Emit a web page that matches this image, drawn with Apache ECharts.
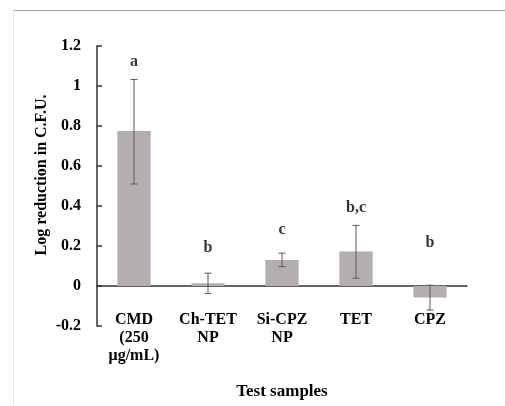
<!DOCTYPE html>
<html>
<head>
<meta charset="utf-8">
<script src="https://cdn.jsdelivr.net/npm/echarts@6/dist/echarts.min.js"></script>
<style>
html, body { margin: 0; padding: 0; background: #fff; }
#chart { width: 505px; height: 406px; }
</style>
</head>
<body>
<div id="chart"></div>
<script>
var categories = ['CMD\n(250\nμg/mL)', 'Ch-TET\nNP', 'Si-CPZ\nNP', 'TET', 'CPZ'];
var means = [0.775, 0.014, 0.13, 0.172, -0.058];
var errLow = [0.51, -0.037, 0.097, 0.039, -0.12];
var errHigh = [1.033, 0.064, 0.164, 0.303, 0.004];
var letters = ['a', 'b', 'c', 'b,c', 'b'];
var letterY = [1.12, 0.19, 0.28, 0.39, 0.215];

var serif = '"Liberation Serif", "DejaVu Serif", serif';

var errData = categories.map(function (c, i) { return [i, errLow[i], errHigh[i]]; });
var letterData = categories.map(function (c, i) { return [i, letterY[i]]; });

var chart = echarts.init(document.getElementById('chart'));

var option = {
    backgroundColor: '#fff',
    animation: false,
    grid: {
        left: 97,
        right: 38,
        top: 46,
        bottom: 80,
        containLabel: false,
        outerBoundsMode: 'none'
    },
    graphic: [
        { type: 'line', shape: { x1: 13, y1: 10.5, x2: 505, y2: 10.5 }, style: { stroke: '#a6a6a6', lineWidth: 1 } },
        { type: 'line', shape: { x1: 13.5, y1: 10, x2: 13.5, y2: 406 }, style: { stroke: '#e6e6e6', lineWidth: 1 } },
        {
            type: 'text',
            x: 42, y: 175,
            rotation: Math.PI / 2,
            style: {
                text: 'Log reduction in C.F.U.',
                font: 'bold 16px ' + serif,
                fill: '#000',
                align: 'center',
                verticalAlign: 'middle'
            }
        }
    ],
    xAxis: {
        type: 'category',
        data: categories,
        name: 'Test samples',
        nameLocation: 'middle',
        nameGap: 57,
        nameTextStyle: { fontFamily: serif, fontWeight: 'bold', fontSize: 17, color: '#000' },
        axisLine: { onZero: true, lineStyle: { color: '#333', width: 1.5 } },
        axisTick: { show: false },
        axisLabel: {
            interval: 0,
            margin: -15,
            fontFamily: serif,
            fontWeight: 'bold',
            fontSize: 16,
            lineHeight: 18,
            color: '#000'
        },
        splitLine: { show: false }
    },
    yAxis: {
        type: 'value',
        min: -0.2,
        max: 1.2,
        interval: 0.2,
        axisLine: { show: true, lineStyle: { color: '#333', width: 1.5 } },
        axisTick: { show: true, inside: true, length: 5, lineStyle: { color: '#333', width: 1.5 } },
        axisLabel: {
            margin: 16,
            fontFamily: serif,
            fontWeight: 'bold',
            fontSize: 16,
            color: '#000',
            formatter: function (v) { return String(Math.round(v * 10) / 10); }
        },
        splitLine: { show: false }
    },
    series: [{
        type: 'bar',
        data: means,
        barWidth: '45%',
        itemStyle: { color: '#b4aeae' },
        z: 2
    }, {
        type: 'custom',
        data: errData,
        z: 3,
        renderItem: function (params, api) {
            var x = api.value(0);
            var lo = api.coord([x, api.value(1)]);
            var hi = api.coord([x, api.value(2)]);
            var cap = 3.5;
            var st = { stroke: '#595959', lineWidth: 1 };
            return {
                type: 'group',
                children: [
                    { type: 'line', shape: { x1: lo[0], y1: lo[1], x2: hi[0], y2: hi[1] }, style: st },
                    { type: 'line', shape: { x1: lo[0] - cap, y1: lo[1], x2: lo[0] + cap, y2: lo[1] }, style: st },
                    { type: 'line', shape: { x1: hi[0] - cap, y1: hi[1], x2: hi[0] + cap, y2: hi[1] }, style: st }
                ]
            };
        }
    }, {
        type: 'scatter',
        data: letterData,
        symbolSize: 0,
        silent: true,
        label: {
            show: true,
            position: 'inside',
            fontFamily: serif,
            fontWeight: 'bold',
            fontSize: 16,
            color: '#000',
            formatter: function (p) { return letters[p.dataIndex]; }
        }
    }]
};

chart.setOption(option);
</script>
</body>
</html>
